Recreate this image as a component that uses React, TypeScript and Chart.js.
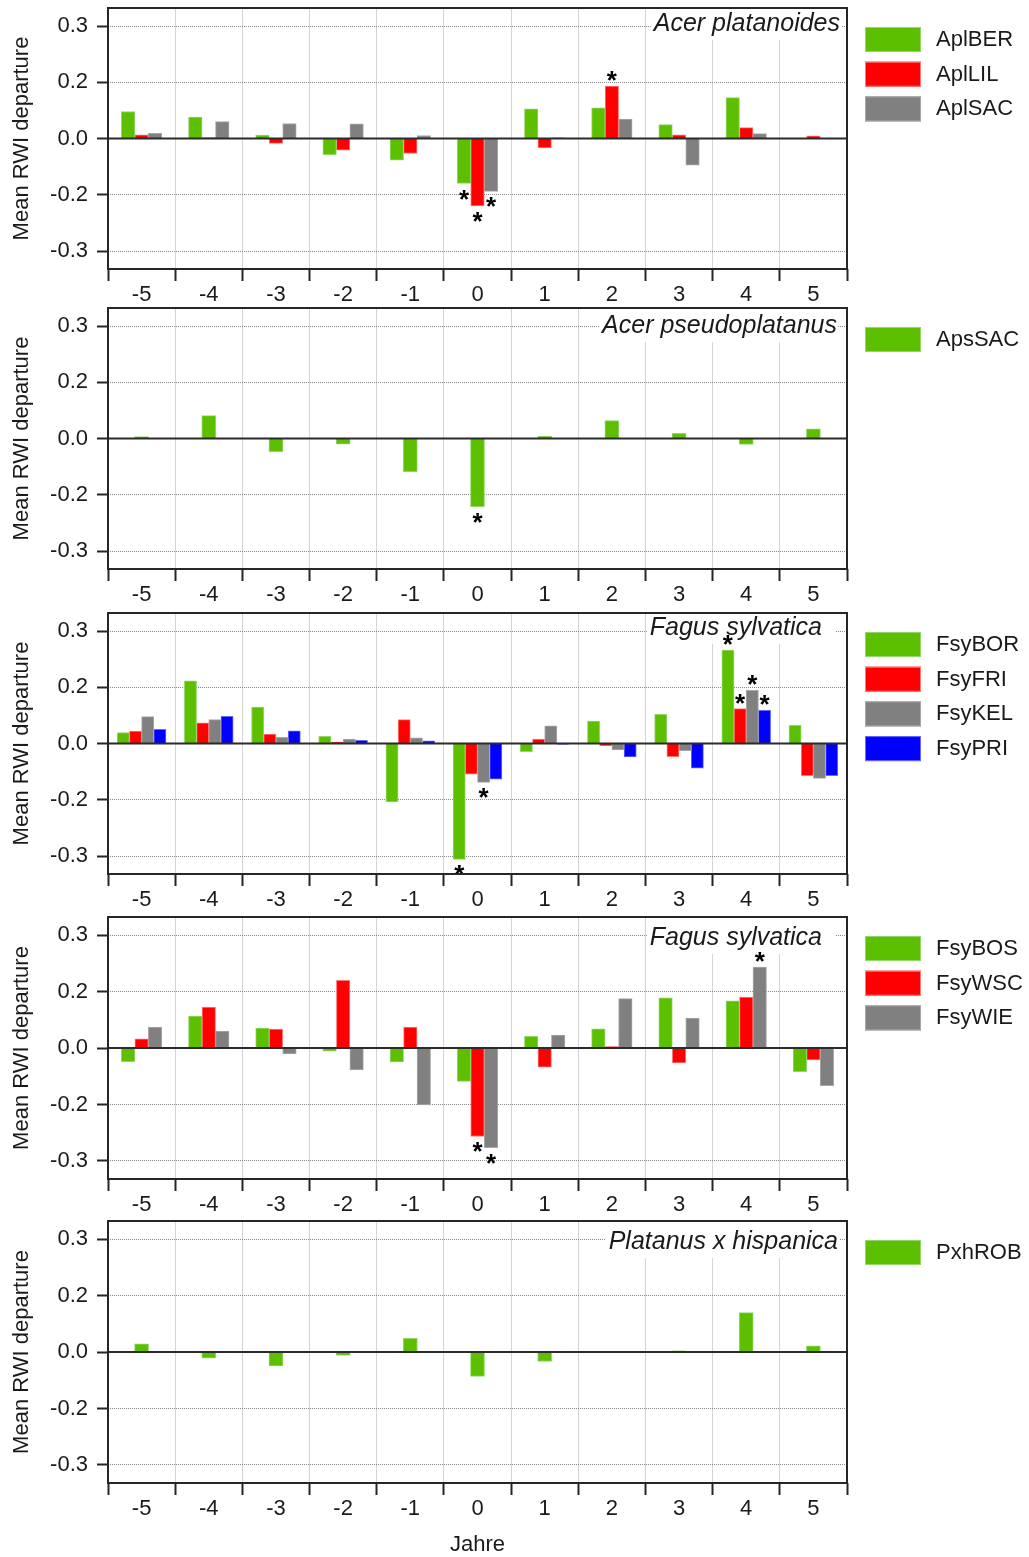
import React, { useEffect, useRef } from "react";
import { Chart, registerables } from "chart.js";

Chart.register(...registerables);

const FONT = '"Liberation Sans", Arial, sans-serif';
const TEXT = "#1a1a1a";
const DARK = "#262626";

// ---------- shared axes ----------
const categories = ["-5", "-4", "-3", "-2", "-1", "0", "1", "2", "3", "4", "5"];
const yTickValues = [-0.3, -0.15, 0, 0.15, 0.3];
const yTickLabels = ["-0.3", "-0.2", "0.0", "0.2", "0.3"];
const yTitle = "Mean RWI departure";
const xTitle = "Jahre";

// ---------- panel 1: Acer platanoides ----------
const aplBER = [0.072, 0.057, 0.009, -0.043, -0.058, -0.12, 0.079, 0.082, 0.037, 0.109, 0.0];
const aplLIL = [0.01, 0.002, -0.013, -0.031, -0.04, -0.18, -0.025, 0.14, 0.01, 0.029, 0.007];
const aplSAC = [0.014, 0.045, 0.04, 0.039, 0.008, -0.141, 0.002, 0.052, -0.071, 0.013, -0.001];
const aplSig = [[0, 5], [1, 5], [2, 5], [1, 7]];

// ---------- panel 2: Acer pseudoplatanus ----------
const apsSAC = [0.005, 0.061, -0.035, -0.015, -0.0885, -0.182, 0.006, 0.0475, 0.014, -0.0155, 0.026];
const apsSig = [[0, 5]];

// ---------- panel 3: Fagus sylvatica ----------
const fsyBOR = [0.029, 0.167, 0.097, 0.019, -0.156, -0.309, -0.022, 0.06, 0.078, 0.249, 0.0485];
const fsyFRI = [0.033, 0.055, 0.025, 0.003, 0.0635, -0.082, 0.012, -0.006, -0.035, 0.093, -0.086];
const fsyKEL = [0.0715, 0.0635, 0.0165, 0.012, 0.015, -0.1035, 0.047, -0.017, -0.019, 0.142, -0.093];
const fsyPRI = [0.038, 0.0725, 0.034, 0.0085, 0.007, -0.095, -0.002, -0.036, -0.066, 0.0885, -0.086];
const fsy1Sig = [[0, 5], [2, 5], [0, 9], [1, 9], [2, 9], [3, 9]];

// ---------- panel 4: Fagus sylvatica ----------
const fsyBOS = [-0.036, 0.085, 0.053, -0.0085, -0.037, -0.0885, 0.031, 0.051, 0.133, 0.125, -0.063];
const fsyWSC = [0.0245, 0.109, 0.05, 0.18, 0.0555, -0.235, -0.051, 0.004, -0.0395, 0.135, -0.0315];
const fsyWIE = [0.0555, 0.045, -0.0155, -0.058, -0.1515, -0.2645, 0.034, 0.131, 0.0795, 0.215, -0.1];
const fsy2Sig = [[1, 5], [2, 5], [2, 9]];

// ---------- panel 5: Platanus x hispanica ----------
const pxhROB = [0.022, -0.0165, -0.037, -0.0093, 0.036, -0.065, -0.0253, 0.002, 0.003, 0.1045, 0.0165];
const pxhSig: number[][] = [];

// ---------- colours ----------
const GREEN = { fill: "#5cbf00", edge: "#93d66a" };
const RED = { fill: "#ff0000", edge: "#ff7a7a" };
const GRAY = { fill: "#808080", edge: "#a8a8a8" };
const BLUE = { fill: "#0000ff", edge: "#6a6aff" };

type Series = { label: string; data: number[]; color: { fill: string; edge: string } };
type PanelCfg = {
  title: string;
  series: Series[];
  sig: number[][];
  plotTop: number;
  plotH: number;
  barThickness: number;
  titleRight: number;
  boxRight: number;
  titleBaseline: number;
  last?: boolean;
};

const panels: PanelCfg[] = [
  {
    title: "Acer platanoides",
    series: [
      { label: "AplBER", data: aplBER, color: GREEN },
      { label: "AplLIL", data: aplLIL, color: RED },
      { label: "AplSAC", data: aplSAC, color: GRAY },
    ],
    sig: aplSig,
    plotTop: 8,
    plotH: 261,
    barThickness: 13.5,
    titleRight: 840,
    boxRight: 841,
    titleBaseline: 23,
  },
  {
    title: "Acer pseudoplatanus",
    series: [{ label: "ApsSAC", data: apsSAC, color: GREEN }],
    sig: apsSig,
    plotTop: 308,
    plotH: 261,
    barThickness: 14,
    titleRight: 837,
    boxRight: 838,
    titleBaseline: 25,
  },
  {
    title: "Fagus sylvatica",
    series: [
      { label: "FsyBOR", data: fsyBOR, color: GREEN },
      { label: "FsyFRI", data: fsyFRI, color: RED },
      { label: "FsyKEL", data: fsyKEL, color: GRAY },
      { label: "FsyPRI", data: fsyPRI, color: BLUE },
    ],
    sig: fsy1Sig,
    plotTop: 613,
    plotH: 261,
    barThickness: 12.2,
    titleRight: 822,
    boxRight: 836,
    titleBaseline: 22,
  },
  {
    title: "Fagus sylvatica",
    series: [
      { label: "FsyBOS", data: fsyBOS, color: GREEN },
      { label: "FsyWSC", data: fsyWSC, color: RED },
      { label: "FsyWIE", data: fsyWIE, color: GRAY },
    ],
    sig: fsy2Sig,
    plotTop: 917,
    plotH: 262,
    barThickness: 13.5,
    titleRight: 822,
    boxRight: 836,
    titleBaseline: 28,
  },
  {
    title: "Platanus x hispanica",
    series: [{ label: "PxhROB", data: pxhROB, color: GREEN }],
    sig: pxhSig,
    plotTop: 1221,
    plotH: 262,
    barThickness: 14,
    titleRight: 838,
    boxRight: 839,
    titleBaseline: 28,
    last: true,
  },
];

const PAGE_W = 1029;
const PAGE_H = 1557;
const TOP_PAD = 8;
const X_AXIS_H = 35;

function zeroPadding(s: any) {
  s.paddingTop = 0;
  s.paddingBottom = 0;
  s.paddingLeft = 0;
  s.paddingRight = 0;
}

function Panel({ cfg }: { cfg: PanelCfg }) {
  const ref = useRef<HTMLCanvasElement>(null);
  const canvasTop = cfg.plotTop - TOP_PAD;
  const canvasH = cfg.last ? PAGE_H - canvasTop : TOP_PAD + cfg.plotH + X_AXIS_H;
  const xAxisH = canvasH - TOP_PAD - cfg.plotH;

  useEffect(() => {
    if (!ref.current) return;

    const panelPlugin = {
      id: "panelDecor",
      beforeDatasetsDraw(chart: any) {
        const { ctx, chartArea } = chart;
        ctx.save();
        ctx.font = `italic 25px ${FONT}`;
        const w = ctx.measureText(cfg.title).width;
        const left = cfg.titleRight - w - 3;
        ctx.fillStyle = "#ffffff";
        ctx.fillRect(left, chartArea.top + 1, cfg.boxRight - left, cfg.titleBaseline + 8);
        ctx.fillStyle = TEXT;
        ctx.textAlign = "right";
        ctx.textBaseline = "alphabetic";
        ctx.fillText(cfg.title, cfg.titleRight, chartArea.top + cfg.titleBaseline);
        ctx.restore();
      },
      afterDatasetsDraw(chart: any) {
        const { ctx, chartArea, scales } = chart;
        const y0 = scales.y.getPixelForValue(0);
        ctx.save();
        ctx.strokeStyle = "#2b2b2b";
        ctx.lineWidth = 2;
        ctx.beginPath();
        ctx.moveTo(chartArea.left, y0);
        ctx.lineTo(chartArea.right, y0);
        ctx.stroke();

        ctx.fillStyle = "#000000";
        ctx.font = `bold 26px ${FONT}`;
        ctx.textAlign = "center";
        ctx.textBaseline = "alphabetic";
        cfg.sig.forEach(([di, ci]) => {
          const el = chart.getDatasetMeta(di).data[ci];
          const v = cfg.series[di].data[ci];
          const cy = v >= 0 ? el.y - 10 : el.y + 11;
          ctx.fillText("*", el.x, cy + 13);
        });
        ctx.restore();
      },
      afterDraw(chart: any) {
        const { ctx, chartArea } = chart;
        ctx.save();
        ctx.strokeStyle = DARK;
        ctx.lineWidth = 2;
        ctx.strokeRect(chartArea.left, chartArea.top, chartArea.right - chartArea.left, chartArea.bottom - chartArea.top);

        // legend
        const bx = 865;
        cfg.series.forEach((s, i) => {
          const by = chartArea.top + 19 + i * 34.7;
          ctx.fillStyle = s.color.fill;
          ctx.fillRect(bx, by, 56, 25);
          ctx.strokeStyle = s.color.edge;
          ctx.lineWidth = 1;
          ctx.strokeRect(bx + 0.5, by + 0.5, 55, 24);
          ctx.fillStyle = TEXT;
          ctx.font = `22px ${FONT}`;
          ctx.textAlign = "left";
          ctx.textBaseline = "middle";
          ctx.fillText(s.label, bx + 56 + 15, by + 13);
        });
        ctx.restore();
      },
    };

    const chart = new Chart(ref.current, {
      type: "bar",
      data: {
        labels: categories,
        datasets: cfg.series.map((s) => ({
          label: s.label,
          data: s.data,
          backgroundColor: s.color.fill,
          borderColor: s.color.edge,
          borderWidth: 1,
          borderSkipped: "start",
          barThickness: cfg.barThickness,
        })),
      },
      options: {
        animation: false,
        responsive: false,
        layout: { padding: { top: TOP_PAD, right: PAGE_W - 847, left: 0, bottom: 0 } },
        plugins: {
          legend: { display: false },
          tooltip: { enabled: false },
          title: { display: false },
        },
        scales: {
          x: {
            offset: true,
            grid: {
              offset: true,
              color: "#d4d4d4",
              lineWidth: 1,
              tickLength: 12,
              tickColor: DARK,
              tickWidth: 2,
            },
            border: { display: false },
            ticks: {
              color: TEXT,
              font: { family: FONT, size: 22 },
              padding: 1,
              maxRotation: 0,
              autoSkip: false,
            },
            title: {
              display: !!cfg.last,
              text: xTitle,
              color: TEXT,
              font: { family: FONT, size: 22, lineHeight: 1.1 },
              padding: { top: 0, bottom: 0 },
            },
            afterFit: (s: any) => {
              s.height = xAxisH;
              zeroPadding(s);
            },
          },
          y: {
            min: -0.348,
            max: 0.348,
            afterBuildTicks: (s: any) => {
              s.ticks = yTickValues.map((v) => ({ value: v }));
            },
            ticks: {
              color: TEXT,
              font: { family: FONT, size: 22 },
              padding: 9,
              callback: (v: any) => {
                const i = yTickValues.findIndex((t) => Math.abs(t - Number(v)) < 1e-9);
                return i >= 0 ? yTickLabels[i] : "";
              },
            },
            grid: {
              color: (c: any) => (c.tick && Math.abs(c.tick.value) < 1e-9 ? "rgba(0,0,0,0)" : "#8a8a8a"),
              lineWidth: 1,
              tickLength: 11,
              tickColor: DARK,
              tickWidth: 2,
              tickBorderDash: [],
            },
            border: { display: false, dash: [1, 1] },
            title: {
              display: true,
              text: yTitle,
              color: TEXT,
              font: { family: FONT, size: 22 },
              padding: { top: 9, bottom: 0 },
            },
            afterFit: (s: any) => {
              s.width = 108;
              zeroPadding(s);
            },
          },
        },
      } as any,
      plugins: [panelPlugin],
    });
    return () => chart.destroy();
  }, []);

  return (
    <div style={{ position: "absolute", left: 0, top: canvasTop, width: PAGE_W, height: canvasH }}>
      <canvas ref={ref} width={PAGE_W} height={canvasH} style={{ display: "block" }} />
    </div>
  );
}

export default function App() {
  return (
    <div style={{ position: "absolute", left: 0, top: 0, width: PAGE_W, height: PAGE_H, background: "#ffffff" }}>
      {panels.map((p, i) => (
        <Panel key={i} cfg={p} />
      ))}
    </div>
  );
}
